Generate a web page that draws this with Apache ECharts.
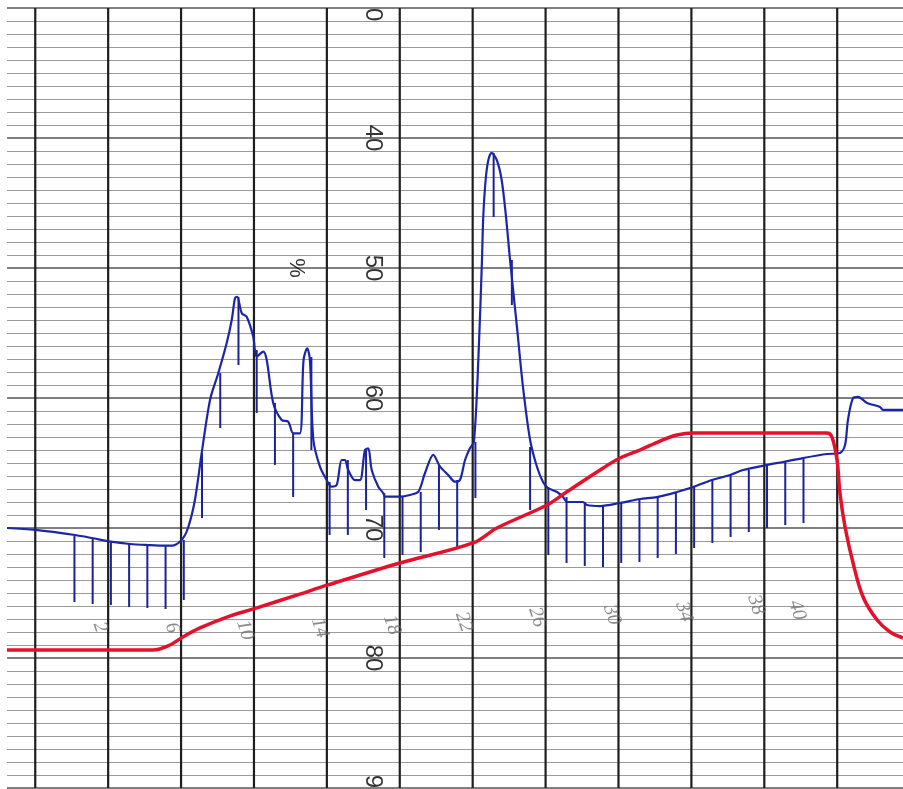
<!DOCTYPE html>
<html>
<head>
<meta charset="utf-8">
<script src="https://cdn.jsdelivr.net/npm/echarts@6/dist/echarts.min.js"></script>
<style>html,body{margin:0;padding:0;background:#fff;}#c{width:903px;height:789px;}</style>
</head>
<body>
<div id="c"></div>
<script>
// ---- data (x: fraction scale, 4 fractions per major division; y: % on inverted chart scale) ----
var traceX = [-1.55, 0.00, 2.18, 3.18, 4.15, 5.20, 6.17, 7.16, 7.48, 8.03, 8.38, 8.76, 9.13, 9.59, 10.04, 10.50, 10.78, 10.96, 11.08, 11.33, 11.60, 11.96, 12.15, 12.51, 12.70, 13.06, 13.52, 13.88, 14.16, 14.52,
  14.72, 14.92, 15.07, 15.26, 15.62, 15.99, 16.26, 16.54, 16.81, 16.99, 17.17, 17.54, 17.82, 18.09, 18.27, 18.46, 18.82, 19.10, 19.19, 20.01, 20.56, 21.02, 21.38, 21.84, 22.21, 22.66, 23.03, 23.30, 23.58, 23.85, 24.07, 24.31,
  24.51, 24.58, 24.71, 24.86, 25.04, 25.32, 25.59, 25.83, 26.05, 26.43, 26.76, 27.15, 27.53, 27.86, 28.13, 28.63, 28.96, 29.18, 30.05, 30.27, 30.99, 32.08, 33.18, 34.11, 35.21, 36.09, 37.13, 38.12, 38.83, 40.15, 41.03, 42.12, 43.44, 44.15, 44.43, 44.59, 44.87, 45.14, 45.64, 46.35, 46.51, 47.61];
var traceY = [70.00, 70.15, 70.54, 70.79, 71.05, 71.23, 71.31, 71.36, 71.36, 70.92, 70.00, 67.85, 64.25, 60.15, 58.10, 55.79, 54.00, 52.33, 52.21, 53.48, 53.75, 55.28, 56.82, 56.44, 57.08, 60.41, 61.69, 61.82, 62.72, 62.72,
  57.08, 56.18, 57.08, 63.23, 65.28, 66.31, 66.82, 66.69, 64.77, 64.77, 65.54, 66.31, 66.31, 64.00, 63.87, 65.54, 66.82, 67.33, 67.59, 67.59, 67.46, 67.21, 65.79, 64.38, 65.28, 65.92, 66.44, 66.31, 64.77, 63.87, 63.36, 57.08,
  49.38, 46.08, 43.23, 41.69, 41.15, 41.69, 43.23, 46.08, 49.38, 54.54, 59.15, 63.23, 65.31, 66.46, 66.92, 67.23, 67.62, 68.00, 68.00, 68.23, 68.31, 68.08, 67.77, 67.62, 67.23, 66.85, 66.31, 65.92, 65.54, 65.15, 64.92, 64.62, 64.31, 64.23, 63.62, 61.69, 60.00, 59.92, 60.38, 60.69, 60.92, 60.92];

var gradientX = [-1.55, 6.46, 7.39, 8.10, 9.04, 10.52, 12.16, 14.52, 16.06, 20.01, 24.02, 25.33, 28.08, 29.07, 30.99, 32.08, 33.18, 34.28, 35.21, 36.09, 43.44, 43.71, 43.99, 44.15, 44.43, 44.87, 45.42, 46.19, 46.90, 47.61];
var gradientY = [79.38, 79.38, 79.00, 78.38, 77.69, 76.85, 76.15, 75.08, 74.38, 72.69, 71.15, 70.00, 68.23, 67.31, 65.54, 64.62, 64.00, 63.31, 62.85, 62.69, 62.69, 63.00, 64.77, 67.31, 69.92, 72.69, 75.31, 77.08, 78.00, 78.46];

var fractionTickX = [2.15, 3.15, 4.15, 5.15, 6.15, 7.15, 8.15, 9.15, 10.15, 11.15, 12.15, 13.15, 14.15, 15.15, 16.15, 17.15, 18.15, 19.15, 20.15, 21.15, 22.15, 23.15, 24.15, 25.15, 26.15, 27.15, 28.15, 29.15, 30.15, 31.15, 32.15, 33.15, 34.15, 35.15, 36.15, 37.15, 38.15, 39.15, 40.15, 41.15, 42.15];
var fractionTickTop = [70.62, 70.77, 71.00, 71.15, 71.31, 71.38, 70.92, 64.23, 58.08, 52.23, 56.31, 60.38, 62.69, 56.85, 66.46, 64.77, 64.00, 67.31, 67.62, 67.23, 65.15, 66.31, 63.38, 41.15, 49.38, 63.77, 66.92, 67.62, 68.00, 68.31, 68.08, 67.77, 67.62, 67.23, 66.85, 66.31, 65.92, 65.54, 65.15, 64.92, 64.62];
var fractionTickBottom = [75.69, 75.85, 75.92, 76.08, 76.15, 76.23, 75.54, 69.23, 62.31, 57.46, 61.15, 65.15, 67.62, 64.00, 70.54, 70.54, 68.62, 72.31, 72.08, 71.85, 70.15, 71.46, 67.69, 46.08, 52.85, 68.62, 72.08, 72.69, 72.92, 73.00, 72.69, 72.62, 72.31, 72.00, 71.54, 71.15, 70.69, 70.31, 70.00, 69.77, 69.62];

var fractionLabels = ['2', '6', '10', '14', '18', '22', '26', '30', '34', '38', '40'];
var fractionLabelX = [3.55, 7.50, 11.51, 15.62, 19.57, 23.52, 27.53, 31.64, 35.60, 39.55, 41.80];
var fractionLabelY = [77.62, 77.69, 77.85, 77.69, 77.46, 77.23, 76.85, 76.69, 76.46, 75.92, 76.31];

var majorLineX = [0, 4, 8, 12, 16, 20, 24, 28, 32, 36, 40, 44];

var yTickLabels = [30, 40, 50, 60, 70, 80, 90];
var yLabelColumnX = 18.53;
var unitLabel = '%';
var unitLabelPos = [14.30, 50.0];

var chart = echarts.init(document.getElementById('c'), null, {renderer: 'canvas'});

function pairs(xs, ys) { return xs.map(function (x, i) { return [x, ys[i]]; }); }

function vLine(color, width) {
  return function (params, api) {
    var p1 = api.coord([api.value(0), api.value(1)]);
    var p2 = api.coord([api.value(0), api.value(2)]);
    return {type: 'line', shape: {x1: p1[0], y1: p1[1], x2: p2[0], y2: p2[1]},
            style: {stroke: color, lineWidth: width}};
  };
}

var option = {
  animation: false,
  backgroundColor: '#ffffff',
  grid: {left: 7, right: 0, top: 8, bottom: 1, containLabel: false},
  xAxis: {
    type: 'value', min: -1.55, max: 47.61,
    axisLine: {show: false}, axisTick: {show: false}, axisLabel: {show: false},
    splitLine: {show: false}
  },
  yAxis: {
    type: 'value', inverse: true, min: 30, max: 90, interval: 10,
    axisLine: {show: false}, axisTick: {show: false}, axisLabel: {show: false},
    splitLine: {show: true, lineStyle: {color: '#555', width: 1.5}},
    minorTick: {show: false, splitNumber: 10},
    minorSplitLine: {show: true, lineStyle: {color: '#9a9a9a', width: 1}}
  },
  graphic: [
    {type: 'rect', z: 100, shape: {x: 0, y: 0, width: 903, height: 7}, style: {fill: '#ffffff'}}
  ],
  series: [
    {
      type: 'custom', name: 'chart paper', z: 1, silent: true, clip: false,
      renderItem: vLine('#1e1e1e', 2.2),
      encode: {x: 0, y: [1, 2]},
      data: majorLineX.map(function (x) { return [x, 30, 90]; })
    },
    {
      type: 'custom', name: 'fractions', z: 3,
      renderItem: vLine('#1b2296', 2),
      encode: {x: 0, y: [1, 2]},
      data: fractionTickX.map(function (x, i) { return [x, fractionTickTop[i], fractionTickBottom[i]]; })
    },
    {
      type: 'line', name: 'trace', z: 4, showSymbol: false, smooth: 0.3,
      lineStyle: {color: '#1c25a8', width: 2.2},
      data: pairs(traceX, traceY)
    },
    {
      type: 'line', name: 'gradient', z: 5, showSymbol: false, smooth: 0.35,
      lineStyle: {color: '#e4102c', width: 3.5},
      data: pairs(gradientX, gradientY)
    },
    {
      type: 'scatter', name: 'fraction labels', z: 6, symbolSize: 0, silent: true,
      label: {show: true, position: 'inside', rotate: -72, color: '#6e6e6e',
               fontFamily: 'Liberation Serif', fontStyle: 'italic', fontSize: 20,
               formatter: function (p) { return fractionLabels[p.dataIndex]; }},
      data: pairs(fractionLabelX, fractionLabelY)
    },
    {
      type: 'scatter', name: 'y labels', z: 6, symbolSize: 0, silent: true,
      label: {show: true, position: 'inside', rotate: -90, color: '#000',
               fontFamily: 'Liberation Sans', fontSize: 24,
               formatter: function (p) { return String(p.value[1]); }},
      data: yTickLabels.map(function (v) { return [yLabelColumnX, v]; })
    },
    {
      type: 'scatter', name: 'unit', z: 6, symbolSize: 0, silent: true,
      label: {show: true, position: 'inside', rotate: -90, color: '#000',
               fontFamily: 'Liberation Sans', fontSize: 22, formatter: unitLabel},
      data: [unitLabelPos]
    }
  ]
};
chart.setOption(option);
</script>
</body>
</html>
